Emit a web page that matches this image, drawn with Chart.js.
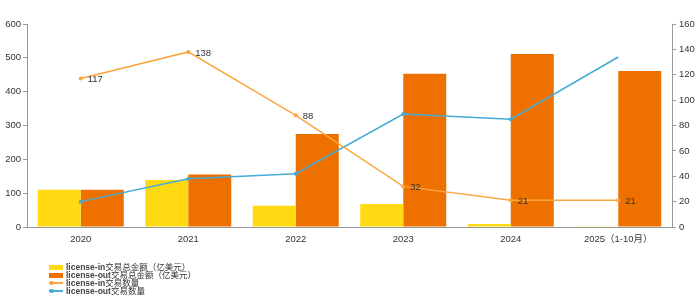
<!DOCTYPE html>
<html>
<head>
<meta charset="utf-8">
<script src="https://cdn.jsdelivr.net/npm/chart.js@4.4.1/dist/chart.umd.min.js"></script>
<style>
  body { margin: 0; background: #fff; }
  #wrap { position: relative; width: 700px; height: 299px; }
  #legenda { position: absolute; left: 49px; top: 263px; font: 8.5px "Liberation Sans Narrow", "Liberation Sans", "Noto Sans CJK SC", sans-serif; color: #333; }
  .item { height: 8px; line-height: 8px; display: flex; align-items: center; white-space: nowrap; }
  .item b { font-weight: bold; color: #444; }
  .caixa { width: 14px; height: 5px; margin-right: 3px; }
  .linha { width: 14px; height: 1.5px; margin-right: 3px; position: relative; }
  .linha span { position: absolute; left: 0; top: -1.5px; width: 4.5px; height: 4.5px; border-radius: 50%; }
</style>
</head>
<body>
<div id="wrap">
  <canvas id="grafico" width="700" height="299"></canvas>
  <div id="legenda"></div>
</div>
<script>
const anos = ["2020", "2021", "2022", "2023", "2024", "2025（1-10月）"];
const valorIn = [110, 139, 63, 68, 9, 2];
const valorOut = [110, 155, 275, 453, 511, 461];
const qtdIn = [117, 138, 88, 32, 21, 21];
const qtdOut = [20, 38, 42, 89, 85, 134];

const corAmarela = "#ffda12";
const corLaranja = "#ee7100";
const corLinhaIn = "#fca53e";
const corLinhaOut = "#45abd9";
const fonte = "'Liberation Sans', 'Noto Sans CJK SC', sans-serif";

// rótulos só na série license-in
const rotulos = {
  id: "rotulos",
  afterDatasetsDraw(chart) {
    const ctx = chart.ctx;
    const meta = chart.getDatasetMeta(2);
    ctx.save();
    ctx.font = "9.5px " + fonte;
    ctx.fillStyle = "#333";
    ctx.textBaseline = "middle";
    meta.data.forEach((p, i) => {
      ctx.fillText(qtdIn[i], p.x + 7, p.y + 1);
    });
    ctx.restore();
  }
};

const chart = new Chart(document.getElementById("grafico"), {
  type: "bar",
  data: {
    labels: anos,
    datasets: [
      { label: "license-in交易总金额（亿美元）", data: valorIn, backgroundColor: corAmarela, yAxisID: "y", order: 2 },
      { label: "license-out交易总金额（亿美元）", data: valorOut, backgroundColor: corLaranja, yAxisID: "y", order: 2 },
      { type: "line", label: "license-in交易数量", data: qtdIn, borderColor: corLinhaIn, backgroundColor: corLinhaIn,
        borderWidth: 1.5, pointRadius: 2, pointBorderWidth: 0, pointHoverRadius: 2, yAxisID: "y1", order: 1 },
      { type: "line", label: "license-out交易数量", data: qtdOut, borderColor: corLinhaOut, backgroundColor: corLinhaOut,
        borderWidth: 1.5, pointRadius: [2, 2, 2, 2, 2, 0], pointBorderWidth: 0, pointHoverRadius: 2, yAxisID: "y1", order: 1 }
    ]
  },
  options: {
    responsive: false,
    animation: false,
    layout: { padding: { top: 24, bottom: 52, left: 0, right: 0 } },
    datasets: { bar: { barPercentage: 1, categoryPercentage: 0.8 } },
    plugins: { legend: { display: false }, tooltip: { enabled: false } },
    scales: {
      x: {
        grid: { display: false, drawTicks: true, offset: true, tickLength: 4, color: "#999" },
        border: { color: "#999" },
        ticks: { color: "#333", font: { family: fonte, size: 9.5 }, padding: 3, maxRotation: 0 },
        afterFit(s) { s.height = 20; }
      },
      y: {
        position: "left", min: 0, max: 600,
        ticks: { stepSize: 100, color: "#333", font: { family: fonte, size: 9.5 }, padding: 2 },
        grid: { display: true, drawOnChartArea: false, tickLength: 4, color: "#999" },
        border: { color: "#999" },
        afterFit(s) { s.width = 27; }
      },
      y1: {
        position: "right", min: 0, max: 160,
        ticks: { stepSize: 20, color: "#333", font: { family: fonte, size: 9.5 }, padding: 3 },
        grid: { display: true, drawOnChartArea: false, tickLength: 4, color: "#999" },
        border: { color: "#999" },
        afterFit(s) { s.width = 28; }
      }
    }
  },
  plugins: [rotulos]
});

// legenda em html, vertical no canto inferior esquerdo
const legenda = document.getElementById("legenda");
chart.data.datasets.forEach(ds => {
  const item = document.createElement("div");
  item.className = "item";
  const i = ds.label.search(/[^\x00-\x7f]/);
  const texto = `<b>${ds.label.slice(0, i)}</b>${ds.label.slice(i)}`;
  if (ds.type === "line") {
    item.innerHTML = `<div class="linha" style="background:${ds.borderColor}"><span style="background:${ds.borderColor}"></span></div>${texto}`;
  } else {
    item.innerHTML = `<div class="caixa" style="background:${ds.backgroundColor}"></div>${texto}`;
  }
  legenda.appendChild(item);
});
</script>
</body>
</html>
